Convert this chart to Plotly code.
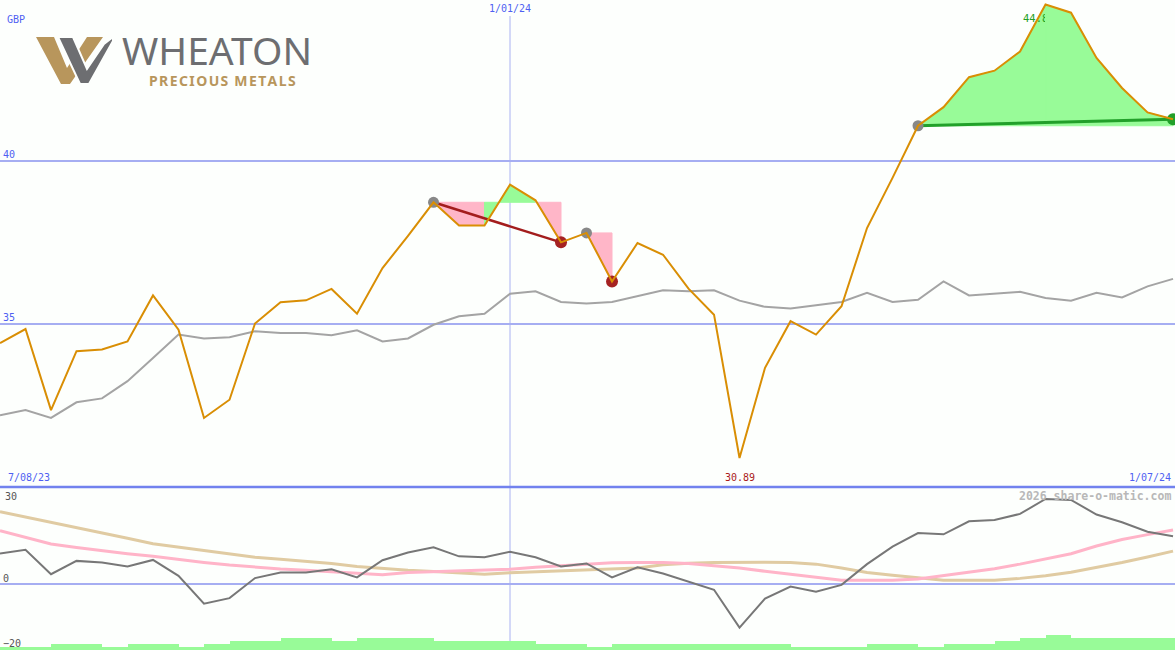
import plotly.graph_objects as go
import pandas as pd

# ---------------- data ----------------
dates = pd.date_range("2023-08-14", periods=47, freq="7D")

price = [34.42, 34.85, 32.36, 34.17, 34.22, 34.47, 35.88, 34.83, 32.12, 32.68,
         35.02, 35.67, 35.73, 36.08, 35.32, 36.72, 37.71, 38.74, 38.03, 38.03,
         39.28, 38.80, 37.51, 37.80, 36.31, 37.49, 37.13, 36.09, 35.29, 30.89,
         33.66, 35.09, 34.68, 35.55, 37.95, 39.49, 41.09, 41.66, 42.58, 42.78,
         43.37, 44.81, 44.56, 43.17, 42.25, 41.50, 41.29]

moving_avg = [32.20, 32.36, 32.12, 32.60, 32.72, 33.25, 33.96, 34.68, 34.56, 34.60,
              34.78, 34.73, 34.73, 34.66, 34.81, 34.47, 34.56, 34.98, 35.24, 35.32,
              35.93, 36.01, 35.68, 35.63, 35.68, 35.85, 36.04, 36.01, 36.04, 35.72,
              35.53, 35.48, 35.57, 35.68, 35.96, 35.68, 35.75, 36.31, 35.88, 35.94,
              35.99, 35.80, 35.72, 35.96, 35.82, 36.16, 36.39]

oscillator = [9.5, 10.6, 3.1, 7.2, 6.7, 5.5, 7.5, 2.6, -6.0, -4.3,
              1.9, 3.6, 3.6, 4.6, 2.1, 7.4, 9.8, 11.4, 8.6, 8.3,
              10.0, 8.3, 5.5, 6.4, 2.1, 5.2, 3.3, 0.7, -1.7, -13.4,
              -4.4, -0.7, -2.3, -0.2, 6.2, 11.6, 15.8, 15.4, 19.4, 19.8,
              21.7, 26.3, 26.0, 21.5, 19.1, 16.2, 14.8]

signal_pink = [16.5, 14.4, 12.4, 11.3, 10.3, 9.4, 8.6, 7.6, 6.7, 5.9,
               5.2, 4.7, 4.3, 3.8, 3.3, 2.9, 3.6, 3.9, 4.1, 4.4,
               4.6, 5.2, 5.7, 6.3, 6.6, 6.7, 6.7, 6.4, 5.8, 5.0,
               4.0, 3.0, 2.0, 1.2, 1.2, 1.2, 1.6, 2.7, 3.7, 4.8,
               6.2, 7.7, 9.4, 11.8, 13.8, 15.3, 16.7]

signal_tan = [22.4, 20.8, 19.2, 17.6, 16.0, 14.2, 12.5, 11.4, 10.4, 9.3,
              8.3, 7.7, 7.1, 6.4, 5.5, 4.8, 4.3, 3.9, 3.5, 3.1,
              3.5, 3.8, 4.1, 4.4, 4.5, 5.0, 6.0, 6.5, 6.7, 6.8,
              6.8, 6.7, 6.2, 5.0, 3.6, 2.8, 2.0, 1.2, 1.2, 1.2,
              1.8, 2.6, 3.7, 5.1, 6.7, 8.4, 10.2]

volume = [0.9, 0.9, 1.9, 1.9, 0.9, 1.9, 1.9, 0.9, 1.9, 2.8,
          2.8, 3.7, 3.7, 2.8, 3.7, 3.7, 3.7, 2.8, 2.8, 2.8,
          2.8, 1.9, 1.9, 0.9, 1.9, 1.9, 1.9, 1.9, 1.9, 1.9,
          1.9, 0.9, 0.9, 0.9, 1.9, 1.9, 0.9, 1.9, 1.9, 2.8,
          3.7, 4.6, 3.7, 3.7, 3.7, 3.7, 3.7]

peak_idx = [17, 23, 36]          # grey swing markers
low_idx = [22, 24]               # red markers
end_idx = [46]                   # green marker
swing_windows = [(17, 22), (23, 24), (36, 46)]
trend_down = (17, 22)
trend_up = (36, 46)

date_labels = ["7/08/23", "1/01/24", "1/07/24"]
year_idx = 20
currency = "GBP"
price_ticks = [35, 40]
osc_ticks = [-20, 0]

# ---------------- styling ----------------
W, H = 1175, 650
split = 1 - 487 / H
BLUE_TXT = "#4f5ff2"
GRID = "#a6aef2"
PINK = "#ffb6c8"
GREEN = "#98fb98"
ORANGE = "#d98e04"
BG = "#fdfffd"
MONO = "DejaVu Sans Mono"

fig = go.Figure()

imax = price.index(max(price))
imin = price.index(min(price))

# swing fills (split at the maximum so the max label sits between the pieces)
polys = []
for a, b in swing_windows:
    level = price[a]
    runs = []
    for j in range(a, b):
        col = GREEN if price[j + 1] >= level else PINK
        if runs and runs[-1][2] == col and runs[-1][1] != imax:
            runs[-1][1] = j + 1
        else:
            runs.append([j, j + 1, col])
    for s, e, col in runs:
        polys.append((s, e, col, level))

for s, e, col, level in polys:
    xs = [dates[s]] + list(dates[s:e + 1]) + [dates[e], dates[s]]
    ys = [level] + price[s:e + 1] + [level, level]
    fig.add_trace(go.Scatter(x=xs, y=ys, fill="toself", fillcolor=col,
                             mode="lines", line=dict(width=1, color=col),
                             hoverinfo="skip", showlegend=False))
    if e == imax:
        fig.add_trace(go.Scatter(x=[dates[imax] - pd.Timedelta(hours=44)],
                                 y=[price[imax] - 0.47], mode="text",
                                 text=[f"{price[imax]:.2f}"], textposition="middle center",
                                 textfont=dict(family=MONO, size=10.5, color="#22a022"),
                                 hoverinfo="skip", showlegend=False))

# moving average
fig.add_trace(go.Scatter(x=dates, y=moving_avg, mode="lines",
                         line=dict(color="#a4a4a4", width=2), showlegend=False))

# trend lines
a, b = trend_down
fig.add_trace(go.Scatter(x=[dates[a], dates[b]], y=[price[a], price[b]], mode="lines",
                         line=dict(color="#a31d1d", width=2.5), showlegend=False))
a, b = trend_up
fig.add_trace(go.Scatter(x=[dates[a], dates[b]], y=[price[a], price[b]], mode="lines",
                         line=dict(color="#22a02a", width=3), showlegend=False))

# markers
fig.add_trace(go.Scatter(x=[dates[i] for i in peak_idx], y=[price[i] for i in peak_idx],
                         mode="markers", marker=dict(size=11, color="#888888"), showlegend=False))
fig.add_trace(go.Scatter(x=[dates[i] for i in low_idx], y=[price[i] for i in low_idx],
                         mode="markers", marker=dict(size=12, color="#a52222"), showlegend=False))
fig.add_trace(go.Scatter(x=[dates[i] for i in end_idx], y=[price[i] for i in end_idx],
                         mode="markers", marker=dict(size=12, color="#22a02a"), showlegend=False))

# price
fig.add_trace(go.Scatter(x=dates, y=price, mode="lines",
                         line=dict(color=ORANGE, width=2), showlegend=False))

# lower panel
fig.add_trace(go.Scatter(x=dates, y=signal_tan, mode="lines", xaxis="x2", yaxis="y2",
                         line=dict(color="#e0cba2", width=3), showlegend=False))
fig.add_trace(go.Scatter(x=dates, y=signal_pink, mode="lines", xaxis="x2", yaxis="y2",
                         line=dict(color="#ffb4c8", width=3), showlegend=False))
fig.add_trace(go.Scatter(x=dates, y=oscillator, mode="lines", xaxis="x2", yaxis="y2",
                         line=dict(color="#777777", width=2), showlegend=False))
fig.add_trace(go.Bar(x=dates, y=volume, xaxis="x2", yaxis="y3",
                     width=7 * 86400000, offset=0, marker=dict(color=GREEN, line=dict(width=0)),
                     showlegend=False, hoverinfo="skip"))

xr = [dates[0], dates[-1] + pd.Timedelta(hours=13)]
fig.update_layout(
    width=W, height=H,
    margin=dict(l=0, r=0, t=0, b=0),
    paper_bgcolor=BG, plot_bgcolor=BG,
    showlegend=False, bargap=0,
    xaxis=dict(domain=[0, 1], range=xr, visible=False, anchor="y"),
    xaxis2=dict(domain=[0, 1], range=xr, visible=False, anchor="y2", matches="x"),
    yaxis=dict(domain=[split, 1], range=[30.0, 44.95], tickvals=price_ticks,
               ticklabelposition="inside", ticklabelshift=-7, ticks="",
               tickfont=dict(family=MONO, size=10, color=BLUE_TXT),
               showgrid=True, gridcolor=GRID, gridwidth=2, zeroline=False, showline=False),
    yaxis2=dict(domain=[0, split], range=[-20.3, 30], tickvals=osc_ticks,
                ticklabelposition="inside", ticklabelshift=-6, ticks="",
                tickfont=dict(family=MONO, size=10, color="#555555"),
                showgrid=False, zeroline=True, zerolinecolor=GRID, zerolinewidth=2, showline=False),
    yaxis3=dict(domain=[0, split], range=[0, 50.3], overlaying="y2", visible=False),
)

# shapes: separator and year line
fig.add_shape(type="line", xref="paper", yref="paper", x0=0, x1=1, y0=split, y1=split,
              line=dict(color="#7282ee", width=2.5))
fig.add_shape(type="line", xref="x", yref="paper", x0=dates[year_idx], x1=dates[year_idx],
              y0=0, y1=1 - 16 / H, line=dict(color="#aab2f2", width=1), layer="below")

ann = []
ann.append(dict(text=currency, x=5 / W, y=1 - 19 / H, xref="paper", yref="paper",
                xanchor="left", yanchor="middle", showarrow=False,
                font=dict(family=MONO, size=10, color=BLUE_TXT)))
ann.append(dict(text=date_labels[0], x=6 / W, y=split + 2 / H, xref="paper", yref="paper",
                xanchor="left", yanchor="bottom", showarrow=False,
                font=dict(family=MONO, size=10, color=BLUE_TXT)))
ann.append(dict(text=date_labels[1], x=dates[year_idx], y=1 - 1 / H, xref="x", yref="paper",
                xanchor="center", yanchor="top", showarrow=False,
                font=dict(family=MONO, size=10, color=BLUE_TXT)))
ann.append(dict(text=date_labels[2], x=1 - 2 / W, y=split + 2 / H, xref="paper", yref="paper",
                xanchor="right", yanchor="bottom", showarrow=False,
                font=dict(family=MONO, size=10, color=BLUE_TXT)))
ann.append(dict(text=f"{price[imin]:.2f}", x=dates[imin], y=split + 2 / H, xref="x", yref="paper",
                xanchor="center", yanchor="bottom", showarrow=False,
                font=dict(family=MONO, size=10, color="#aa1a1a")))
ann.append(dict(text="30", x=3 / W, y=1 - 496 / H, xref="paper", yref="paper",
                xanchor="left", yanchor="middle", showarrow=False,
                font=dict(family=MONO, size=10, color="#555555")))
ann.append(dict(text="<b>2026 share-o-matic.com</b>", x=1 - 2 / W, y=1 - 496 / H, xref="paper",
                yref="paper", xanchor="right", yanchor="middle", showarrow=False,
                font=dict(family=MONO, size=11.5, color="#b8b8b8")))
# logo text
ann.append(dict(text="WHEATON", x=217 / W, y=1 - 50 / H, xref="paper", yref="paper",
                xanchor="center", yanchor="middle", showarrow=False,
                font=dict(family="Noto Sans", size=39, color="#6d6e71")))
ann.append(dict(text="<b>P\u200aR\u200aE\u200aC\u200aI\u200aO\u200aU\u200aS\u2009 M\u200aE\u200aT\u200aA\u200aL\u200aS</b>",
                x=222 / W, y=1 - 81 / H, xref="paper", yref="paper",
                xanchor="center", yanchor="middle", showarrow=False,
                font=dict(family="Noto Sans", size=14, color="#b8965c")))
fig.update_layout(annotations=ann)


def px_path(pts):
    return "M " + " L ".join(f"{x / W:.5f},{1 - y / H:.5f}" for x, y in pts) + " Z"


gold = [(36, 37), (54, 37), (67, 68), (87, 37), (103, 37), (70, 84), (61, 84)]
grey = [(58, 37), (73, 37), (87, 69), (104, 44), (113, 37), (113, 41), (89, 84), (80, 84)]
fig.add_shape(type="path", xref="paper", yref="paper", path=px_path(gold),
              fillcolor="#b8965c", line=dict(width=0))
fig.add_shape(type="path", xref="paper", yref="paper", path=px_path(grey),
              fillcolor="#6d6e71", line=dict(width=2, color=BG))

fig.write_html("out.html", config={"displayModeBar": False},
               post_script="document.body.style.margin='0';")
